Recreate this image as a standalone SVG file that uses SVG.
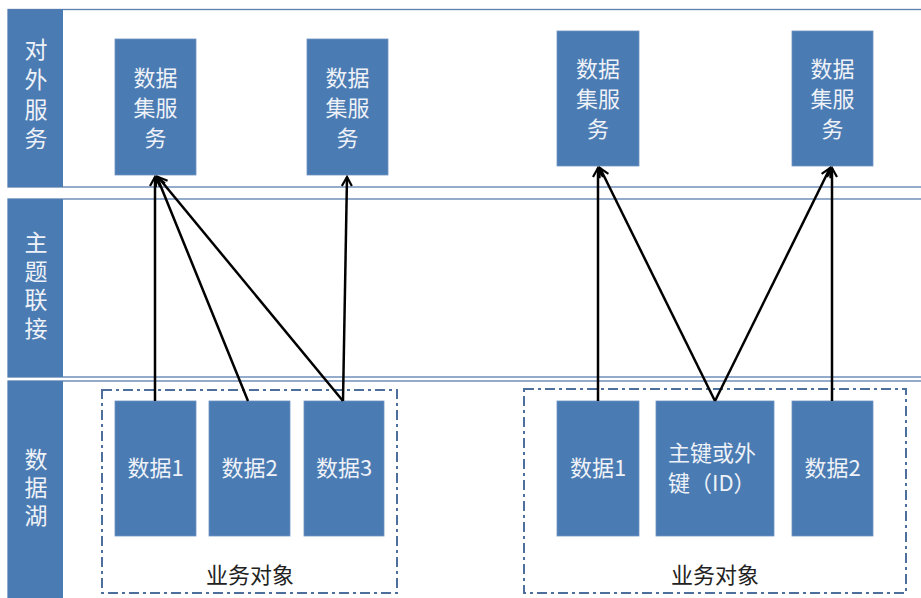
<svg xmlns="http://www.w3.org/2000/svg" width="921" height="598" viewBox="0 0 921 598">
<defs>
<marker id="arr" viewBox="0 0 12 12" refX="10" refY="6" markerWidth="12" markerHeight="12" markerUnits="userSpaceOnUse" orient="auto">
<path d="M1,1 L10,6 L1,11" fill="none" stroke="#000" stroke-width="2.2"/>
</marker>
<style>
.lane{fill:#fff;stroke:#5b7fb0;stroke-width:1.3}
.side{fill:#4a7bb2}
.box{fill:#4a7bb2;stroke:#6f93c2;stroke-width:0.8}
.t{font-family:"Noto Sans CJK SC","Liberation Sans",sans-serif;fill:#eef2f8;text-anchor:middle}
.sv{font-size:23px;writing-mode:vertical-rl}
.bx{font-size:22px}
.grp{fill:none;stroke:#4d6f9c;stroke-width:2;stroke-dasharray:10 4 3 4}
.gl{font-family:"Noto Sans CJK SC","Liberation Sans",sans-serif;font-size:22px;fill:#222;text-anchor:middle}
.c{stroke:#000;stroke-width:2.5;fill:none;marker-end:url(#arr)}
</style>
</defs>
<rect width="921" height="598" fill="#fff"/>
<g id="lane-service">
<rect class="lane" x="8" y="9.5" width="920" height="177.5"/>
<rect class="side" x="8" y="9.5" width="55" height="177.5"/>
<text class="t sv" x="36" y="97.5" style="letter-spacing:6.7px">对外服务</text>
</g>
<g id="lane-topic">
<rect class="lane" x="8" y="199" width="920" height="178"/>
<rect class="side" x="8" y="199" width="55" height="178"/>
<text class="t sv" x="36" y="288" style="letter-spacing:5.5px">主题联接</text>
</g>
<g id="lane-lake">
<rect class="lane" x="8" y="381" width="920" height="230"/>
<rect class="side" x="8" y="381" width="55" height="230"/>
<text class="t sv" x="36" y="490" style="letter-spacing:5px">数据湖</text>
</g>
<g id="svc1"><rect class="box" x="115" y="39" width="81" height="136"/>
<text class="t bx"><tspan x="155.5" y="86">数据</tspan><tspan x="155.5" y="116">集服</tspan><tspan x="155.5" y="146">务</tspan></text></g>
<g id="svc2"><rect class="box" x="307" y="39" width="81" height="136"/>
<text class="t bx"><tspan x="347.5" y="86">数据</tspan><tspan x="347.5" y="116">集服</tspan><tspan x="347.5" y="146">务</tspan></text></g>
<g id="svc3"><rect class="box" x="557" y="31" width="82" height="135"/>
<text class="t bx"><tspan x="598" y="77">数据</tspan><tspan x="598" y="107">集服</tspan><tspan x="598" y="137">务</tspan></text></g>
<g id="svc4"><rect class="box" x="792" y="31" width="81" height="135"/>
<text class="t bx"><tspan x="832.5" y="77">数据</tspan><tspan x="832.5" y="107">集服</tspan><tspan x="832.5" y="137">务</tspan></text></g>
<g id="biz1">
<rect class="grp" x="102" y="390" width="295" height="203"/>
<text class="gl" x="250" y="583">业务对象</text>
</g>
<g id="biz2">
<rect class="grp" x="524" y="389" width="382" height="204"/>
<text class="gl" x="715" y="583">业务对象</text>
</g>
<g id="l-d1"><rect class="box" x="115" y="401" width="81" height="135"/><text class="t bx" x="155.5" y="476">数据1</text></g>
<g id="l-d2"><rect class="box" x="209" y="401" width="81" height="135"/><text class="t bx" x="249.5" y="476">数据2</text></g>
<g id="l-d3"><rect class="box" x="304" y="401" width="80" height="135"/><text class="t bx" x="344" y="476">数据3</text></g>
<g id="r-d1"><rect class="box" x="557" y="401" width="82" height="135"/><text class="t bx" x="598" y="476">数据1</text></g>
<g id="r-key"><rect class="box" x="656" y="401" width="118" height="135"/>
<text class="t bx" style="text-anchor:start"><tspan x="668" y="461">主键或外</tspan><tspan x="668" y="491">键（ID）</tspan></text></g>
<g id="r-d2"><rect class="box" x="792" y="401" width="81" height="135"/><text class="t bx" x="832.5" y="476">数据2</text></g>
<g id="connectors">
<line class="c" x1="155" y1="401" x2="155" y2="177"/>
<line class="c" x1="248" y1="401" x2="157" y2="177"/>
<line class="c" x1="343" y1="401" x2="158" y2="177"/>
<line class="c" x1="343" y1="401" x2="347" y2="177"/>
<line class="c" x1="598" y1="401" x2="598" y2="168"/>
<line class="c" x1="715" y1="401" x2="600" y2="168"/>
<line class="c" x1="715" y1="401" x2="830" y2="168"/>
<line class="c" x1="832" y1="401" x2="832" y2="168"/>
</g>
</svg>
